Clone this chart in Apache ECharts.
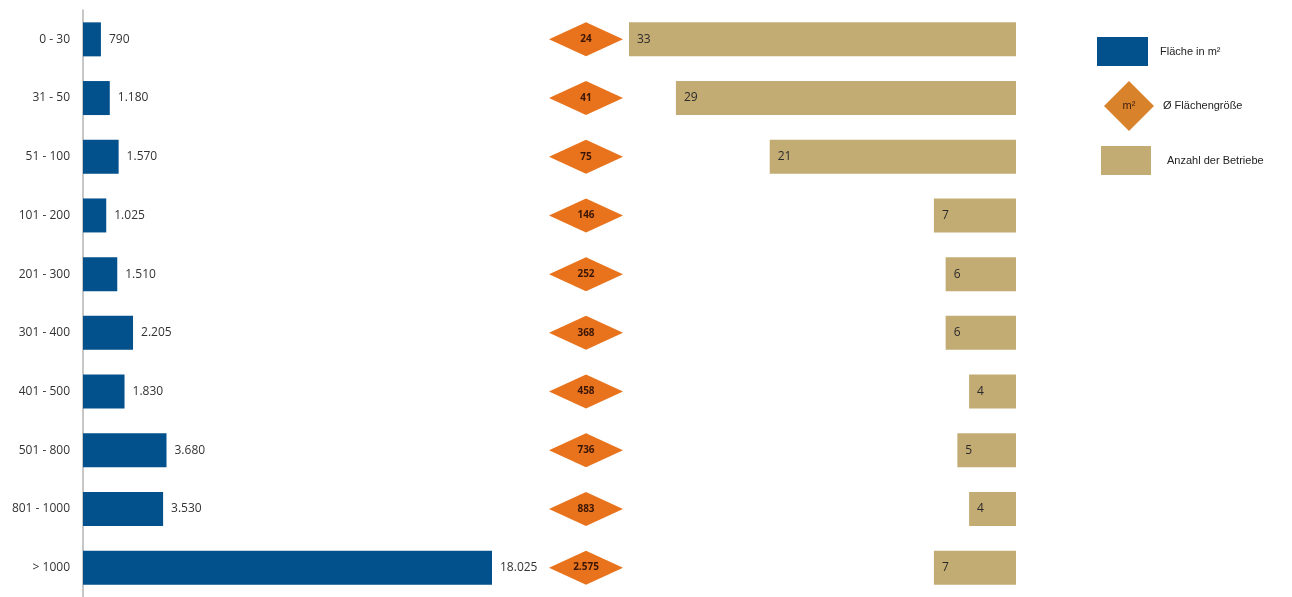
<!DOCTYPE html>
<html>
<head>
<meta charset="utf-8">
<style>
  html, body { margin: 0; padding: 0; background: #ffffff; }
  #chart { width: 1292px; height: 597px; }
</style>
<script src="https://cdn.jsdelivr.net/npm/echarts@6/dist/echarts.min.js"></script>
</head>
<body>
<div id="chart"></div>
<script>
// Größenklassen der Verkaufsfläche (m²)
const categories = ['0 - 30', '31 - 50', '51 - 100', '101 - 200', '201 - 300', '301 - 400', '401 - 500', '501 - 800', '801 - 1000', '> 1000'];
// Gesamte Verkaufsfläche je Größenklasse in m²
const flaeche = [790, 1180, 1570, 1025, 1510, 2205, 1830, 3680, 3530, 18025];
// Durchschnittliche Flächengröße je Betrieb in m²
const durchschnitt = [24, 41, 75, 146, 252, 368, 458, 736, 883, 2575];
// Anzahl der Betriebe je Größenklasse
const betriebe = [33, 29, 21, 7, 6, 6, 4, 5, 4, 7];

const names = ['Fläche in m²', 'Ø Flächengröße', 'Anzahl der Betriebe'];
const colBlue = '#02508c';
const colOrange = '#e8731c';
const colTan = '#c3ab74';
const labelFont = '"Open Sans", "Noto Sans", sans-serif';
const legendFont = '"Liberation Sans", Arial, sans-serif';

const fmt = v => String(v).replace(/\B(?=(\d{3})+(?!\d))/g, '.');

const chart = echarts.init(document.getElementById('chart'), null, { renderer: 'canvas' });

const gridTop = 10, gridH = 589;

chart.setOption({
  animation: false,
  backgroundColor: '#ffffff',
  grid: [
    { left: 83, top: gridTop, width: 409, height: gridH },
    { left: 549, top: gridTop, width: 74, height: gridH },
    { left: 629, top: gridTop, width: 387, height: gridH }
  ],
  xAxis: [
    { gridIndex: 0, type: 'value', min: 0, max: 18025, show: false },
    { gridIndex: 1, type: 'value', min: 0, max: 1, show: false },
    { gridIndex: 2, type: 'value', min: 0, max: 33, inverse: true, show: false }
  ],
  yAxis: [
    {
      gridIndex: 0, type: 'category', data: categories, inverse: true,
      axisLine: { show: true, lineStyle: { color: '#b5b5b5', width: 1.5 } },
      axisTick: { show: false },
      axisLabel: { color: '#333333', fontSize: 12, fontFamily: labelFont, margin: 13 }
    },
    { gridIndex: 1, type: 'category', data: categories, inverse: true, show: false },
    { gridIndex: 2, type: 'category', data: categories, inverse: true, show: false }
  ],
  legend: [
    {
      left: 1097, top: 37, padding: 0, orient: 'vertical', itemWidth: 51, itemHeight: 29, itemGap: 0,
      data: [{ name: names[0], icon: 'rect' }],
      textStyle: { fontFamily: legendFont, fontSize: 11, color: '#222', padding: [0, 0, 0, 7] },
      selectedMode: false
    },
    {
      left: 1104, top: 81, padding: 0, orient: 'vertical', itemWidth: 50, itemHeight: 50, itemGap: 0,
      data: [{ name: names[1], icon: 'diamond', itemStyle: { color: '#d9822c' } }],
      textStyle: { fontFamily: legendFont, fontSize: 11, color: '#222', padding: [0, 0, 0, 4] },
      selectedMode: false
    },
    {
      left: 1101, top: 146, padding: 0, orient: 'vertical', itemWidth: 50, itemHeight: 29, itemGap: 0,
      data: [{ name: names[2], icon: 'rect' }],
      textStyle: { fontFamily: legendFont, fontSize: 11, color: '#222', padding: [0, 0, 0, 11] },
      selectedMode: false
    }
  ],
  graphic: [
    {
      type: 'text', x: 1129, y: 106, z: 100,
      style: {
        text: 'm²', fill: '#3a1d0c', font: '11px "Liberation Sans", Arial, sans-serif',
        textAlign: 'center', textVerticalAlign: 'middle'
      }
    }
  ],
  series: [
    {
      name: names[0], type: 'bar', xAxisIndex: 0, yAxisIndex: 0,
      data: flaeche, barWidth: 34,
      itemStyle: { color: colBlue },
      label: {
        show: true, position: 'right', distance: 8,
        formatter: p => fmt(p.value),
        color: '#333333', fontSize: 12, fontFamily: labelFont
      }
    },
    {
      name: names[1], type: 'scatter', xAxisIndex: 1, yAxisIndex: 1,
      data: durchschnitt.map((v, i) => ({ value: [0.5, categories[i]], raw: v })),
      symbol: 'diamond', symbolSize: [74, 34],
      itemStyle: { color: colOrange, opacity: 1 },
      label: {
        show: true, position: 'inside',
        formatter: p => fmt(p.data.raw),
        color: '#3a1606', fontSize: 10, fontWeight: 'bold', fontFamily: labelFont
      }
    },
    {
      name: names[2], type: 'bar', xAxisIndex: 2, yAxisIndex: 2,
      data: betriebe, barWidth: 34,
      itemStyle: { color: colTan },
      label: {
        show: true, position: 'insideLeft', distance: 8,
        color: '#2a2a2a', fontSize: 12, fontFamily: labelFont
      }
    }
  ]
});
</script>
</body>
</html>
